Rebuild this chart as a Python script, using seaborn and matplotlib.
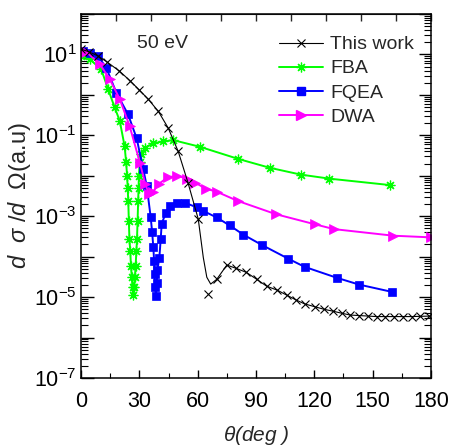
import numpy as np
import matplotlib
matplotlib.use('Agg')
import matplotlib.pyplot as plt
import matplotlib.ticker as mticker
from matplotlib.lines import Line2D
import seaborn as sns

# This work: computed points (markers)
work_deg = [0, 4, 8.5, 13.2, 19.7, 25.2, 30, 34.6, 39.8, 44.9, 50, 55, 60.3, 65.5, 70, 75,
            79.5, 85, 90.4, 95.5, 101, 105.8, 110.6, 115, 120.4, 125, 129.5, 134, 138.5,
            143, 147.5, 152, 156.5, 161, 165.5, 170, 174.5, 179]
work_val = [13.5, 11.7, 9.3, 6.6, 3.9, 2.24, 1.32, 0.78, 0.39, 0.15, 0.040, 6.8e-3, 8.5e-4,
            1.2e-5, 2.75e-5, 6.2e-5, 5.2e-5, 4.1e-5, 2.75e-5, 1.86e-5, 1.48e-5, 1.12e-5,
            8.5e-6, 6.8e-6, 5.75e-6, 5.0e-6, 4.5e-6, 4.0e-6, 3.6e-6, 3.5e-6, 3.4e-6, 3.3e-6,
            3.3e-6, 3.3e-6, 3.3e-6, 3.3e-6, 3.35e-6, 3.4e-6]

# This work: the drawn curve (does not pass through the 65 deg point)
work_curve_deg = [0, 4, 8.5, 13.2, 19.7, 25.2, 30, 34.6, 39.8, 44.9, 50, 55, 60.3, 62.9, 64.7,
                  66.7, 69.8, 75, 79.5, 85, 90.4, 95.5, 101, 105.8, 110.6, 115, 120.4, 125,
                  129.5, 134, 138.5, 143, 147.5, 152, 156.5, 161, 165.5, 170, 174.5, 180]
work_curve_val = [13.5, 11.7, 9.3, 6.6, 3.9, 2.24, 1.32, 0.78, 0.39, 0.15, 0.040, 6.8e-3,
                  8.5e-4, 9.5e-5, 3.1e-5, 2.1e-5, 2.75e-5, 6.2e-5, 5.2e-5, 4.1e-5, 2.75e-5,
                  1.86e-5, 1.48e-5, 1.12e-5, 8.5e-6, 6.8e-6, 5.75e-6, 5.0e-6, 4.5e-6, 4.0e-6,
                  3.6e-6, 3.5e-6, 3.4e-6, 3.3e-6, 3.3e-6, 3.3e-6, 3.3e-6, 3.3e-6, 3.35e-6, 3.4e-6]

# FBA
fba_deg = [0, 4.5, 10.4, 13.9, 17.3, 19.9, 22.4, 23.2, 23.7, 24.0, 24.3, 24.6, 24.9, 25.3,
           25.7, 26.1, 26.5, 26.9, 27.3, 27.7, 28.1, 28.5, 28.8, 29.1, 29.4, 29.6, 29.8,
           30.2, 31.0, 33.0, 37.2, 42.3, 47.5, 61.2, 81, 97, 113, 127.7, 158.8]
fba_val = [9.1, 7.6, 4.3, 1.41, 0.49, 0.23, 0.055, 0.022, 0.010, 5.1e-3, 2.4e-3, 7.8e-4,
           2.75e-4, 1.41e-4, 6.0e-5, 3.1e-5, 1.74e-5, 1.1e-5, 1.74e-5, 3.1e-5, 6.0e-5,
           1.41e-4, 2.75e-4, 7.8e-4, 2.4e-3, 5.1e-3, 0.010, 0.022, 0.035, 0.050, 0.063,
           0.071, 0.076, 0.052, 0.026, 0.0158, 0.0107, 8.5e-3, 5.9e-3]

# FQEA
fqea_deg = [0.8, 4.5, 8.7, 13, 18.2, 24.2, 28.6, 32, 33.8, 35.8, 36.6, 37.2, 37.6, 37.8,
            38.1, 38.6, 38.9, 39.3, 40.3, 41, 41.5, 43.7, 45.8, 49.2, 53.5, 59.5, 62.5,
            69.8, 76.5, 83.5, 93, 106.6, 115, 131.6, 143, 159.8]
fqea_val = [12.3, 11.0, 9.1, 4.7, 1.12, 0.33, 0.085, 0.0148, 5.6e-3, 9.8e-4, 4.0e-4,
            1.7e-4, 7.9e-5, 3.7e-5, 1.74e-5, 1.05e-5, 2.2e-5, 4.7e-5, 9.5e-5, 2.75e-4,
            6.6e-4, 1.23e-3, 1.82e-3, 2.1e-3, 2.15e-3, 1.66e-3, 1.38e-3, 9.3e-4, 5.9e-4,
            3.5e-4, 1.95e-4, 8.9e-5, 5.6e-5, 3.0e-5, 2.04e-5, 1.35e-5]

# DWA
dwa_deg = [0, 2.7, 9.6, 14.8, 19.9, 25, 30.3, 33, 35, 37, 40, 44.5, 49.5, 54.5, 58.6,
           64.2, 70, 80.5, 100.3, 120.4, 130.1, 160.6, 180]
dwa_val = [12.6, 11.7, 5.8, 2.45, 0.79, 0.17, 0.021, 6.3e-3, 3.5e-3, 4.0e-3, 6.3e-3,
           9.1e-3, 0.010, 8.5e-3, 6.8e-3, 4.8e-3, 4.0e-3, 2.4e-3, 1.12e-3, 6.3e-4, 4.8e-4,
           3.3e-4, 3.0e-4]

sns.set_style('ticks')
plt.rcParams['font.family'] = ['Liberation Sans', 'DejaVu Sans']
plt.rcParams['mathtext.fontset'] = 'custom'
plt.rcParams['mathtext.rm'] = 'Liberation Sans'
plt.rcParams['mathtext.it'] = 'Liberation Sans:italic'

green, blue, magenta = '#00ff00', '#0000ff', '#ff00ff'
star = (8, 2, 0)

fig = plt.figure(figsize=(4.51, 4.48), dpi=100)
ax = fig.add_axes([81 / 451, 70 / 448, 350 / 451, 364 / 448])

sns.lineplot(x=fba_deg, y=fba_val, ax=ax, color=green, lw=1.4, marker=star, ms=7,
             mec=green, mew=0.9, estimator=None, sort=False)
sns.lineplot(x=fqea_deg, y=fqea_val, ax=ax, color=blue, lw=1.4, marker='s', ms=5.5,
             mec=blue, mew=0.5, estimator=None, sort=False)
sns.lineplot(x=dwa_deg, y=dwa_val, ax=ax, color=magenta, lw=1.4, marker='>', ms=7,
             mec=magenta, mew=0.5, estimator=None, sort=False)
sns.lineplot(x=work_curve_deg, y=work_curve_val, ax=ax, color='black', lw=0.8,
             estimator=None, sort=False)
sns.lineplot(x=work_deg, y=work_val, ax=ax, color='black', ls='none', marker='x', ms=6,
             mec='black', mew=0.8, estimator=None, sort=False)

ax.set_yscale('log')
ax.set_xlim(0, 180)
ax.set_ylim(1e-7, 1e2)

ax.xaxis.set_major_locator(mticker.MultipleLocator(30))
ax.xaxis.set_minor_locator(mticker.MultipleLocator(15))
ax.yaxis.set_major_locator(mticker.LogLocator(base=10, numticks=20))
ax.yaxis.set_minor_locator(mticker.LogLocator(base=10, subs=np.arange(2, 10), numticks=20))


def fmt(v, pos):
    e = int(round(np.log10(v)))
    return r'$10^{%d}$' % e if e % 2 else ''


ax.yaxis.set_major_formatter(mticker.FuncFormatter(fmt))
ax.tick_params(which='both', direction='in', right=True, labelsize=15.5, colors='black')
ax.tick_params(axis='y', which='major', length=9, width=1, pad=3)
ax.tick_params(axis='y', which='minor', length=5, width=0.8)
ax.tick_params(axis='x', which='major', length=6, width=1, pad=9)
ax.tick_params(axis='x', which='minor', length=3.5, width=0.8)

top = ax.secondary_xaxis('top')
top.set_xticks(np.arange(0, 181, 18))
top.xaxis.set_major_formatter(mticker.NullFormatter())
top.tick_params(direction='in', length=5, width=1)

for s in ax.spines.values():
    s.set_linewidth(1.1)
    s.set_color('black')

ax.set_xlabel(r'$\theta$(deg )', fontsize=15, fontstyle='italic', labelpad=9)
ax.set_ylabel(r'$d\ \ \sigma\ /d\ \ \Omega$(a.u)', fontsize=17)
ax.yaxis.set_label_coords(-0.138, 0.5)
ax.text(0.16, 0.92, '50 eV', transform=ax.transAxes, fontsize=14, va='center')

handles = [
    Line2D([], [], color='black', lw=0.8, marker='x', ms=6, mew=0.8),
    Line2D([], [], color=green, lw=1.4, marker=star, ms=7, mew=0.9),
    Line2D([], [], color=blue, lw=1.4, marker='s', ms=5.5),
    Line2D([], [], color=magenta, lw=1.4, marker='>', ms=7),
]
ax.legend(handles, ['This work', 'FBA', 'FQEA', 'DWA'], loc='upper left',
          bbox_to_anchor=(0.565, 0.94), frameon=False, fontsize=14, borderpad=0,
          borderaxespad=0, handlelength=2.3, handletextpad=0.35, labelspacing=0.33)

fig.savefig('out.png', dpi=100)
